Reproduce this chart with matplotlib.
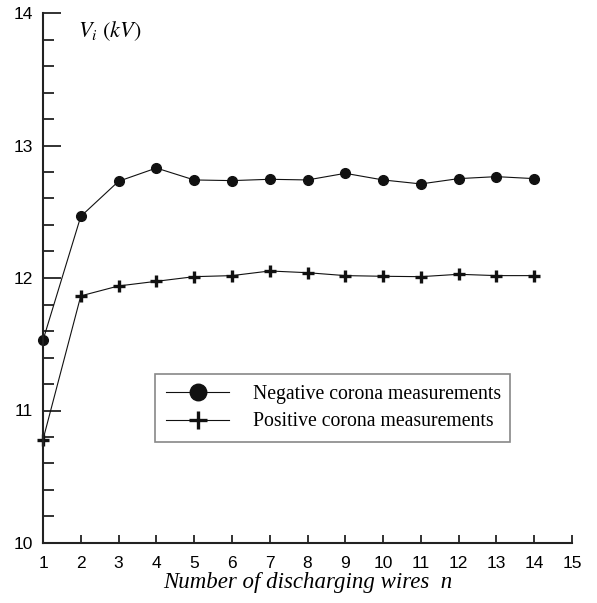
import matplotlib.pyplot as plt
from matplotlib.ticker import MultipleLocator

n_wires = [1, 2, 3, 4, 5, 6, 7, 8, 9, 10, 11, 12, 13, 14]
v_negative = [11.53, 12.465, 12.73, 12.83, 12.74, 12.735, 12.745, 12.74,
              12.79, 12.74, 12.71, 12.75, 12.765, 12.75]
v_positive = [10.78, 11.865, 11.94, 11.975, 12.01, 12.018, 12.053, 12.04,
              12.018, 12.013, 12.01, 12.028, 12.018, 12.018]

plt.rcParams['font.family'] = ['Liberation Sans', 'DejaVu Sans']
plt.rcParams['mathtext.fontset'] = 'stix'

fig = plt.figure(figsize=(5.97, 6.03), dpi=100)
ax = fig.add_axes([43 / 597, 1 - 543 / 603, 529 / 597, 530 / 603])

ax.plot(n_wires, v_negative, color='#111111', linewidth=0.8, marker='o',
        markersize=7, label='Negative corona measurements', clip_on=False)
ax.plot(n_wires, v_positive, color='#111111', linewidth=0.8, marker='+',
        markersize=8, markeredgewidth=2.4, label='Positive corona measurements',
        clip_on=False)

ax.set_xlim(1, 15)
ax.set_ylim(10, 14)
ax.xaxis.set_major_locator(MultipleLocator(1))
ax.yaxis.set_major_locator(MultipleLocator(1))
ax.yaxis.set_minor_locator(MultipleLocator(0.2))

ax.spines['top'].set_visible(False)
ax.spines['right'].set_visible(False)
ax.spines['left'].set_linewidth(1.5)
ax.spines['bottom'].set_linewidth(1.5)
ax.spines['left'].set_color('#222222')
ax.spines['bottom'].set_color('#222222')

ax.tick_params(axis='y', which='major', direction='in', length=13, width=1.3,
               labelsize=12.5, pad=7, color='#222222')
ax.tick_params(axis='y', which='minor', direction='in', length=8, width=1.3,
               color='#222222')
ax.tick_params(axis='x', which='major', direction='in', length=6, width=1.3,
               labelsize=12.5, pad=9, color='#222222')

ax.set_xlabel('Number of discharging wires  n', fontsize=16.5, family='Liberation Serif',
              style='italic', labelpad=1)
ax.text(0.066, 0.965, r'$V_i\ (kV)$', transform=ax.transAxes, fontsize=16,
        va='center', ha='left')

leg = ax.legend(loc='lower left', bbox_to_anchor=(0.212, 0.19, 0.671, 0.123),
                mode='expand', fancybox=False, framealpha=1, edgecolor='#888888',
                prop={'family': 'Liberation Serif', 'size': 14.2}, markerscale=1.7,
                handlelength=3.2, handletextpad=1.2, borderaxespad=0,
                borderpad=0.55, labelspacing=0.45)
leg.get_frame().set_linewidth(1.2)

plt.savefig('out.png', dpi=100)
